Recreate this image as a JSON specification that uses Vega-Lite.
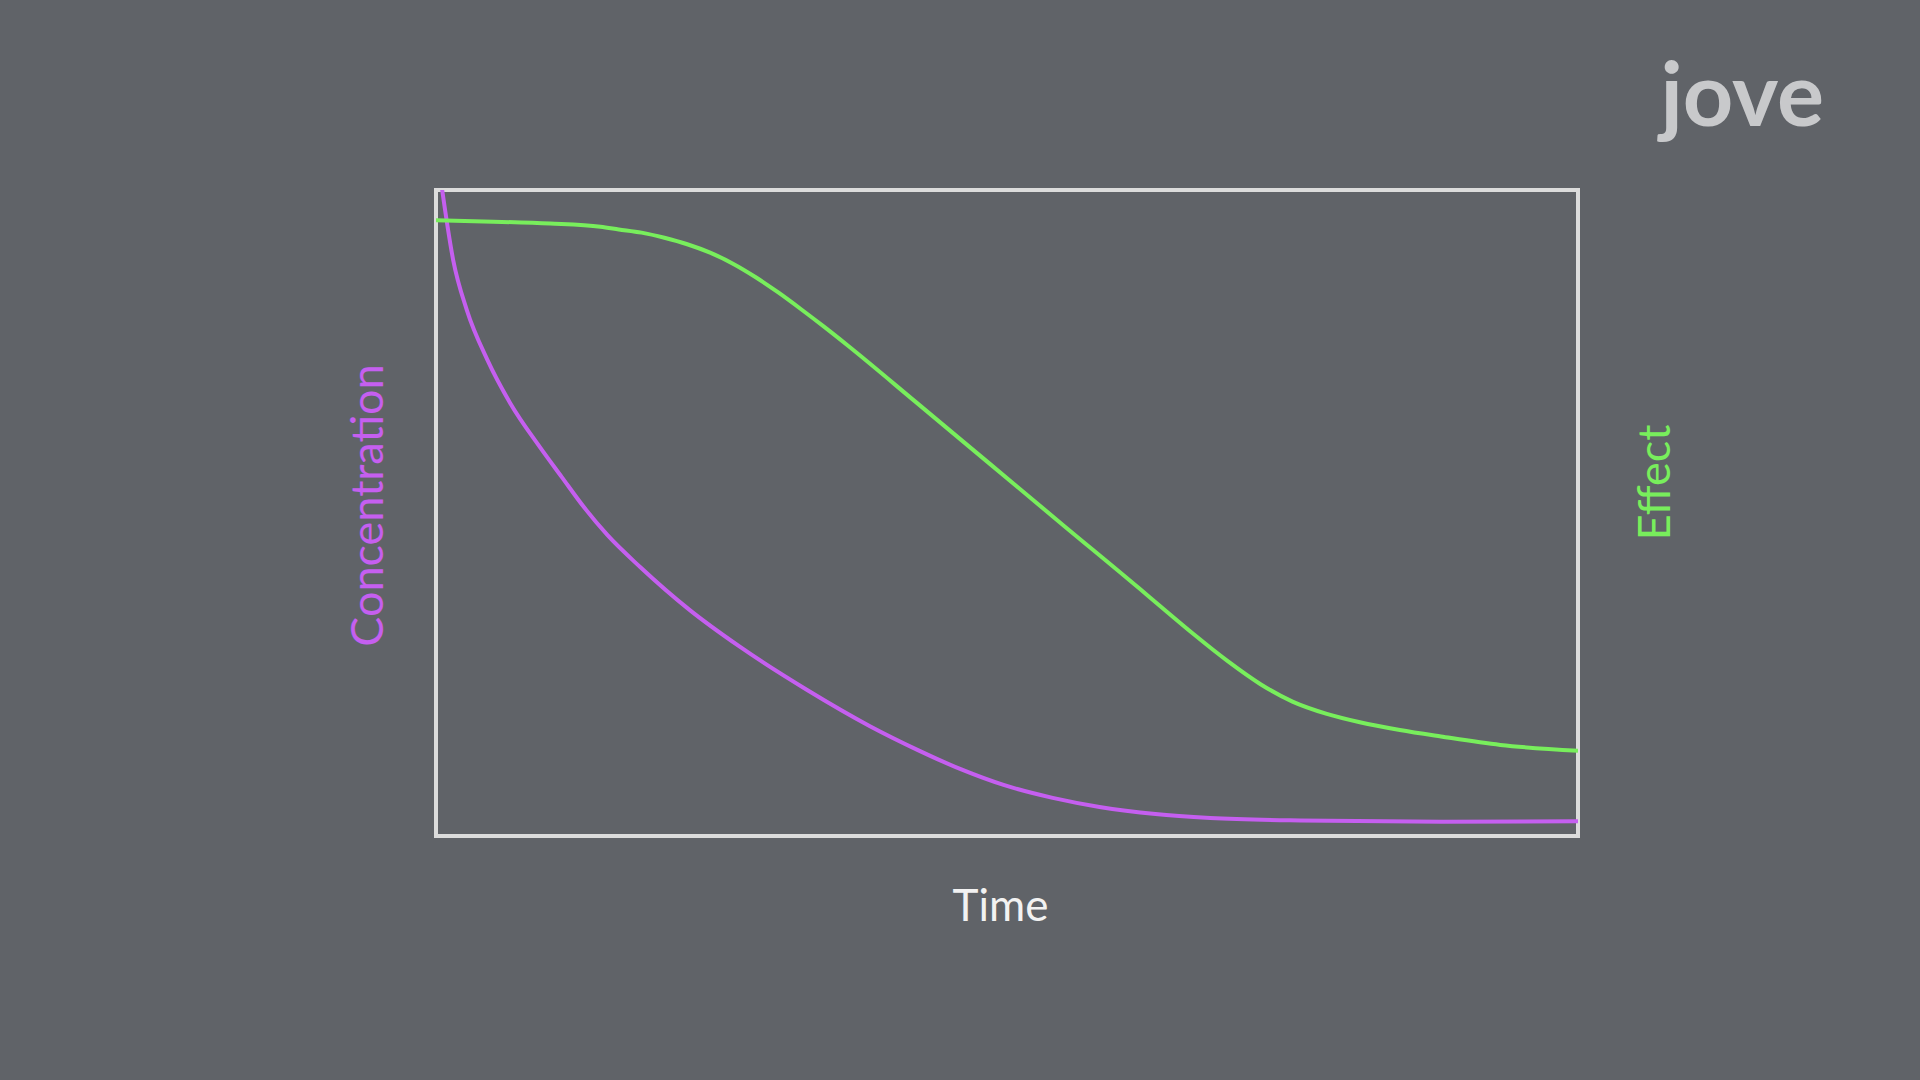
{
  "$schema": "https://vega.github.io/schema/vega-lite/v6.json",
  "width": 1142,
  "height": 646,
  "autosize": {"type": "none"},
  "padding": {"left": 436, "top": 190, "right": 342, "bottom": 244},
  "background": "#606368",
  "title": {
    "text": "jove",
    "anchor": "end",
    "frame": "group",
    "orient": "top",
    "baseline": "alphabetic",
    "offset": 68,
    "dx": 246,
    "dy": 92,
    "font": "Lato",
    "fontSize": 88,
    "fontWeight": "bold",
    "color": "#c8c9cb"
  },
  "config": {
    "font": "Lato",
    "view": {"stroke": "#dcdcdc", "strokeWidth": 4}
  },
  "data": {
    "values": [
      {"t": 0.5, "value": 100.5, "series": "Concentration"},
      {"t": 1.5, "value": 89.2, "series": "Concentration"},
      {"t": 2.7, "value": 81.4, "series": "Concentration"},
      {"t": 4.5, "value": 73.7, "series": "Concentration"},
      {"t": 6.5, "value": 67.0, "series": "Concentration"},
      {"t": 9.1, "value": 60.2, "series": "Concentration"},
      {"t": 11.0, "value": 55.6, "series": "Concentration"},
      {"t": 13.0, "value": 50.8, "series": "Concentration"},
      {"t": 15.0, "value": 46.6, "series": "Concentration"},
      {"t": 17.9, "value": 41.6, "series": "Concentration"},
      {"t": 22.2, "value": 35.0, "series": "Concentration"},
      {"t": 26.6, "value": 29.3, "series": "Concentration"},
      {"t": 32.5, "value": 22.6, "series": "Concentration"},
      {"t": 38.0, "value": 17.0, "series": "Concentration"},
      {"t": 42.2, "value": 13.3, "series": "Concentration"},
      {"t": 46.0, "value": 10.3, "series": "Concentration"},
      {"t": 49.7, "value": 7.9, "series": "Concentration"},
      {"t": 54.0, "value": 5.9, "series": "Concentration"},
      {"t": 58.1, "value": 4.5, "series": "Concentration"},
      {"t": 63.0, "value": 3.4, "series": "Concentration"},
      {"t": 67.8, "value": 2.8, "series": "Concentration"},
      {"t": 75.7, "value": 2.4, "series": "Concentration"},
      {"t": 88.0, "value": 2.2, "series": "Concentration"},
      {"t": 100, "value": 2.3, "series": "Concentration"},
      {"t": 0, "value": 95.3, "series": "Effect"},
      {"t": 5, "value": 95.1, "series": "Effect"},
      {"t": 10, "value": 94.8, "series": "Effect"},
      {"t": 14.4, "value": 94.3, "series": "Effect"},
      {"t": 16.0, "value": 93.9, "series": "Effect"},
      {"t": 18.0, "value": 93.4, "series": "Effect"},
      {"t": 20.0, "value": 92.6, "series": "Effect"},
      {"t": 22.0, "value": 91.6, "series": "Effect"},
      {"t": 24.0, "value": 90.3, "series": "Effect"},
      {"t": 26.0, "value": 88.6, "series": "Effect"},
      {"t": 28.0, "value": 86.5, "series": "Effect"},
      {"t": 30.0, "value": 84.1, "series": "Effect"},
      {"t": 32.0, "value": 81.5, "series": "Effect"},
      {"t": 34.0, "value": 78.8, "series": "Effect"},
      {"t": 36.0, "value": 76.0, "series": "Effect"},
      {"t": 42.0, "value": 67.2, "series": "Effect"},
      {"t": 48.5, "value": 57.6, "series": "Effect"},
      {"t": 55.0, "value": 48.0, "series": "Effect"},
      {"t": 61.6, "value": 38.3, "series": "Effect"},
      {"t": 63.4, "value": 35.6, "series": "Effect"},
      {"t": 66.3, "value": 31.3, "series": "Effect"},
      {"t": 69.3, "value": 27.1, "series": "Effect"},
      {"t": 72.2, "value": 23.5, "series": "Effect"},
      {"t": 75.0, "value": 20.8, "series": "Effect"},
      {"t": 78.0, "value": 18.9, "series": "Effect"},
      {"t": 80.9, "value": 17.6, "series": "Effect"},
      {"t": 84.4, "value": 16.4, "series": "Effect"},
      {"t": 88.0, "value": 15.4, "series": "Effect"},
      {"t": 93.2, "value": 14.1, "series": "Effect"},
      {"t": 100, "value": 13.2, "series": "Effect"}
    ]
  },
  "encoding": {
    "x": {
      "field": "t",
      "type": "quantitative",
      "scale": {"domain": [0, 100], "nice": false},
      "axis": {
        "title": "Time",
        "ticks": false,
        "labels": false,
        "domain": false,
        "grid": false,
        "titleFont": "Lato",
        "titleFontSize": 44,
        "titleFontWeight": "normal",
        "titleColor": "#f2f2f2",
        "titleBaseline": "alphabetic",
        "titlePadding": 84,
        "titleX": 564
      }
    }
  },
  "layer": [
    {
      "transform": [{"filter": "datum.series == 'Concentration'"}],
      "mark": {"type": "line", "color": "#c55ff0", "strokeWidth": 4, "interpolate": "monotone", "clip": true},
      "encoding": {
        "y": {
          "field": "value",
          "type": "quantitative",
          "scale": {"domain": [0, 100], "nice": false},
          "axis": {
            "orient": "left",
            "title": "Concentration",
            "ticks": false,
            "labels": false,
            "domain": false,
            "grid": false,
            "titleFont": "Lato",
            "titleFontSize": 45,
            "titleFontWeight": "normal",
            "titleColor": "#c55ff0",
            "titleBaseline": "alphabetic",
            "titlePadding": 54,
            "titleY": 315
          }
        }
      }
    },
    {
      "transform": [{"filter": "datum.series == 'Effect'"}],
      "mark": {"type": "line", "color": "#78ee5c", "strokeWidth": 4, "interpolate": "monotone", "clip": true},
      "encoding": {
        "y": {
          "field": "value",
          "type": "quantitative",
          "scale": {"domain": [0, 100], "nice": false},
          "axis": {
            "orient": "right",
            "title": "Effect",
            "ticks": false,
            "labels": false,
            "domain": false,
            "grid": false,
            "titleFont": "Lato",
            "titleFontSize": 45,
            "titleFontWeight": "normal",
            "titleColor": "#78ee5c",
            "titleAngle": -90,
            "titleBaseline": "alphabetic",
            "titlePadding": 91,
            "titleY": 292
          }
        }
      }
    }
  ],
  "resolve": {"scale": {"y": "independent"}}
}
